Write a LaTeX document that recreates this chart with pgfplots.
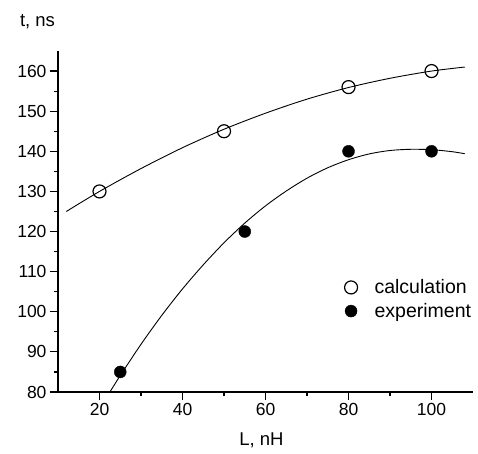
\documentclass[border=0pt]{standalone}
\usepackage{fontspec}
\setmainfont{Liberation Sans}
\usepackage{pgfplots}
\pgfplotsset{compat=1.18}
\begin{document}
\begin{tikzpicture}
\begin{axis}[
  scale only axis, width=415pt, height=341pt,
  xmin=10, xmax=110, ymin=80, ymax=165,
  axis lines*=left,
  clip=false,
  xtick={20,40,...,100}, ytick={80,90,...,160},
  minor x tick num=1, minor y tick num=1,
  tick align=outside,
  major tick length=8pt, minor tick length=4pt,
  every tick/.style={black, line width=1.2pt},
  axis line style={black, line width=1.3pt},
  ticklabel style={font=\fontsize{17.5}{18}\selectfont},
  /pgf/number format/assume math mode=true,
  xlabel={L, nH}, ylabel={t, ns},
  label style={font=\fontsize{18.5}{19}\selectfont},
  xlabel style={at={(rel axis cs:0.49,-0.141)}, anchor=center},
  ylabel style={rotate=-90, at={(rel axis cs:-0.10,1.085)}, anchor=west},
  legend style={draw=none, fill=none, font=\fontsize{19.5}{20}\selectfont,
    at={(rel axis cs:0.69,0.336)}, anchor=north west, row sep=4pt, column sep=15pt, inner sep=0pt},
  legend cell align=left,
]
\addplot[black, line width=0.9pt, smooth, forget plot] coordinates {
(12,125.0) (20,130.0) (30,135.7) (40,140.9) (50,145.5) (60,149.5) (70,153.0) (80,155.9) (90,158.2) (100,160.0) (108,161.0)};
\addplot[black, line width=0.9pt, smooth, forget plot] coordinates {
(22.5,80.0) (25,84.1) (30,91.9) (35,99.1) (40,105.7) (45,111.7) (50,117.2) (55,122.1) (60,126.4) (65,130.1) (70,133.3) (75,135.9) (80,137.9) (85,139.35) (90,140.2) (95,140.5) (100,140.4) (105,139.9) (108,139.4)};
\addplot[only marks, mark=o, mark size=6.5pt, mark options={black, line width=1.2pt}] coordinates {(20,130) (50,145) (80,156) (100,160)};
\addlegendentry{calculation}
\addplot[only marks, mark=*, mark size=6pt, mark options={black, fill=black}] coordinates {(25,85) (55,120) (80,140) (100,140)};
\addlegendentry{experiment}
\path (rel axis cs:-0.1398,-0.1789) rectangle (rel axis cs:1.012,1.1496);
\end{axis}
\end{tikzpicture}
\end{document}
